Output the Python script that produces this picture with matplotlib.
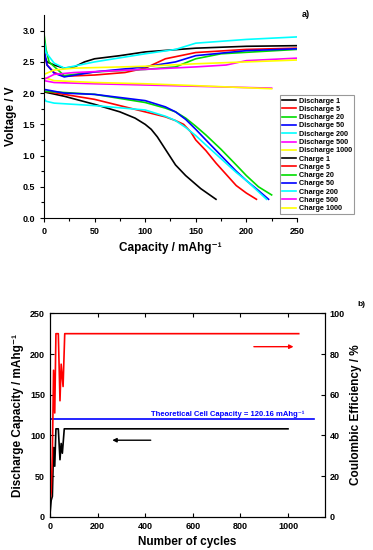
import numpy as np
import matplotlib.pyplot as plt

plt.rcParams['font.family'] = ['Liberation Sans', 'DejaVu Sans']
plt.rcParams['font.weight'] = 'bold'

# ---- panel a) voltage profiles, (capacity, voltage)
labels = ['1', '5', '20', '50', '200', '500', '1000']
colors = ['black', 'red', '#00dd00', 'blue', 'cyan', 'magenta', 'yellow']

dis_cap = [
    [0, 20, 50, 75, 90, 100, 106, 112, 118, 124, 130, 140, 155, 170],
    [0, 20, 50, 100, 120, 130, 138, 145, 150, 160, 170, 180, 190, 200, 210],
    [0, 20, 50, 100, 120, 130, 140, 150, 160, 175, 190, 200, 212, 225],
    [0, 20, 50, 100, 120, 130, 140, 150, 160, 175, 190, 200, 212, 222],
    [0, 2, 10, 50, 100, 120, 130, 140, 150, 160, 175, 190, 200, 210, 220],
    [0, 10, 50, 100, 150, 225],
    [0, 10, 50, 100, 150, 225],
]
dis_v = [
    [2.02, 1.95, 1.82, 1.7, 1.6, 1.5, 1.42, 1.3, 1.15, 1.0, 0.85, 0.68, 0.47, 0.3],
    [2.03, 1.98, 1.9, 1.7, 1.62, 1.56, 1.5, 1.38, 1.25, 1.08, 0.88, 0.7, 0.52, 0.4, 0.3],
    [2.03, 2.01, 1.98, 1.85, 1.76, 1.7, 1.6, 1.47, 1.33, 1.1, 0.85, 0.68, 0.5, 0.37],
    [2.06, 2.0, 1.98, 1.88, 1.78, 1.7, 1.58, 1.42, 1.25, 1.0, 0.75, 0.6, 0.44, 0.3],
    [1.92, 1.87, 1.84, 1.8, 1.73, 1.63, 1.56, 1.45, 1.32, 1.17, 0.95, 0.73, 0.6, 0.45, 0.3],
    [2.2, 2.17, 2.15, 2.13, 2.11, 2.08],
    [2.25, 2.2, 2.17, 2.15, 2.12, 2.07],
]
chg_cap = [
    [0, 3, 10, 20, 30, 40, 50, 75, 100, 150, 200, 250],
    [0, 3, 10, 20, 50, 80, 100, 120, 150, 200, 250],
    [0, 2, 5, 20, 50, 100, 130, 150, 175, 250],
    [0, 3, 10, 20, 50, 100, 130, 150, 200, 250],
    [0, 2, 10, 20, 50, 100, 130, 150, 200, 250],
    [0, 10, 30, 100, 150, 180, 200, 250],
    [0, 10, 30, 100, 150, 200, 250],
]
chg_v = [
    [2.6, 2.5, 2.45, 2.4, 2.42, 2.5, 2.55, 2.6, 2.66, 2.72, 2.75, 2.76],
    [2.65, 2.45, 2.33, 2.27, 2.29, 2.33, 2.4, 2.55, 2.65, 2.7, 2.72],
    [2.95, 2.7, 2.5, 2.28, 2.34, 2.38, 2.42, 2.55, 2.63, 2.7],
    [2.7, 2.45, 2.32, 2.26, 2.34, 2.42, 2.5, 2.6, 2.68, 2.71],
    [2.85, 2.65, 2.48, 2.4, 2.5, 2.63, 2.7, 2.8, 2.86, 2.9],
    [2.22, 2.3, 2.33, 2.38, 2.42, 2.45, 2.52, 2.56],
    [2.3, 2.37, 2.4, 2.43, 2.47, 2.5, 2.53],
]

# ---- panel b) cycling data
cyc_dis = [0, 5, 10, 15, 20, 25, 35, 42, 47, 52, 60, 1000]
cap_dis = [3, 20, 25, 85, 62, 108, 108, 70, 90, 78, 108, 108]
cyc_ce = [0, 5, 10, 15, 20, 25, 35, 42, 47, 55, 62, 1045]
ce = [7.4, 12, 30, 72, 51, 90, 90, 57, 75, 64, 90, 90]
theo_cap = 120.16

fig = plt.figure(figsize=(3.73, 5.5), dpi=100)

ax = fig.add_axes([0.118, 0.6036, 0.678, 0.369])
for i in range(7):
    ax.plot(dis_cap[i], dis_v[i], color=colors[i], lw=1.2, label='Discharge ' + labels[i])
for i in range(7):
    ax.plot(chg_cap[i], chg_v[i], color=colors[i], lw=1.2, label='Charge ' + labels[i])
ax.set_xlim(0, 250)
ax.set_ylim(0, 3.25)
ax.set_xticks([0, 50, 100, 150, 200, 250])
ax.set_yticks([0, 0.5, 1.0, 1.5, 2.0, 2.5, 3.0])
ax.set_xticks(np.arange(25, 250, 50), minor=True)
ax.set_yticks(np.arange(0.25, 3.25, 0.5), minor=True)
ax.spines['top'].set_visible(False)
ax.spines['right'].set_visible(False)
ax.tick_params(labelsize=6.5, length=3, width=0.8)
ax.tick_params(which='minor', length=2, width=0.8)
ax.set_xlabel('Capacity / mAhg⁻¹', fontsize=8.5, fontweight='bold')
ax.set_ylabel('Voltage / V', fontsize=8.5, fontweight='bold')
leg = ax.legend(loc='upper left', bbox_to_anchor=(0.918, 0.622), fontsize=5.2,
                frameon=True, fancybox=False, edgecolor='gray', handlelength=1.9,
                labelspacing=0.17, borderpad=0.3, handletextpad=0.4)
leg.get_frame().set_linewidth(0.8)
fig.text(0.81, 0.982, 'a)', fontsize=6.5, fontweight='bold', va='top')

# panel b
bx = fig.add_axes([0.134, 0.0606, 0.737, 0.3697])
bx.plot(cyc_dis, cap_dis, color='black', lw=1.2)
bx.axhline(theo_cap, xmin=0, xmax=1110 / 1155, color='blue', lw=1.2)
bx.text(424, 124, 'Theoretical Cell Capacity = 120.16 mAhg⁻¹',
        color='blue', fontsize=5.5, fontweight='bold')
bx.annotate('', xy=(250, 94), xytext=(435, 94),
            arrowprops=dict(arrowstyle='-|>', color='black', lw=1.0, mutation_scale=6))
bx.set_xlim(0, 1155)
bx.set_ylim(0, 250)
bx.set_xticks([0, 200, 400, 600, 800, 1000])
bx.set_yticks([0, 50, 100, 150, 200, 250])
bx.tick_params(direction='in', labelsize=6.5, length=3, width=0.8, top=True)
bx.set_xlabel('Number of cycles', fontsize=8.5, fontweight='bold')
bx.set_ylabel('Discharge Capacity / mAhg⁻¹', fontsize=8.5, fontweight='bold')

rx = bx.twinx()
rx.plot(cyc_ce, ce, color='red', lw=1.2)
rx.annotate('', xy=(1035, 83.6), xytext=(845, 83.6),
            arrowprops=dict(arrowstyle='-|>', color='red', lw=1.0, mutation_scale=6))
rx.set_ylim(0, 100)
rx.set_yticks([0, 20, 40, 60, 80, 100])
rx.tick_params(direction='in', labelsize=6.5, length=3, width=0.8)
rx.set_ylabel('Coulombic Efficiency / %', fontsize=8.5, fontweight='bold')
fig.text(0.958, 0.452, 'b)', fontsize=6, fontweight='bold', va='top')

fig.savefig('out.png', dpi=100)
